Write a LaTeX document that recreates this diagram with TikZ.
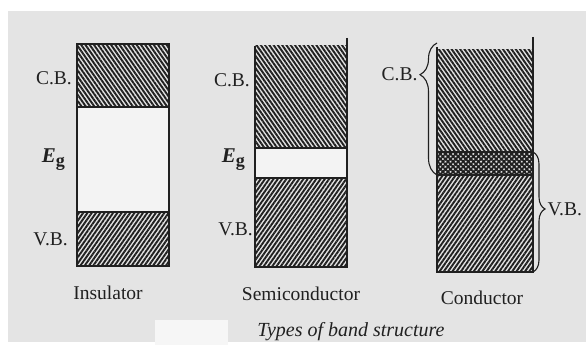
\documentclass[tikz,border=0pt]{standalone}
\usepackage{fontspec}
\setmainfont{Liberation Serif}
\usetikzlibrary{positioning, patterns.meta, decorations.pathreplacing}
\definecolor{paper}{HTML}{E4E4E4}
\definecolor{ink}{HTML}{202020}
\tikzstyle{cb_band} = [rectangle, inner sep=0pt, outer sep=0pt, minimum width=92pt, draw=ink, line width=1.5pt, pattern={Lines[angle=-55, distance=3.5pt, line width=1.9pt]}, pattern color=ink]
\tikzstyle{cb_open} = [cb_band, draw=none]
\tikzstyle{vb_band} = [cb_band, pattern={Lines[angle=55, distance=3.5pt, line width=1.9pt]}]
\tikzstyle{gap_band} = [rectangle, inner sep=0pt, outer sep=0pt, minimum width=92pt, draw=ink, line width=1.5pt, fill=paper!45]
\tikzstyle{overlap_band} = [cb_band, line width=2pt, pattern={Hatch[angle=45, distance=3.6pt, line width=1.8pt]}]
\tikzstyle{band_edge} = [draw=ink, line width=1.5pt]
\tikzstyle{brace_line} = [draw=ink, line width=1.1pt]
\tikzstyle{band_label} = [font=\fontsize{19.5}{22}\selectfont, inner sep=0pt, text=ink]
\tikzstyle{gap_label} = [font=\fontsize{21}{24}\selectfont\bfseries, inner sep=0pt, text=ink]
\newcommand{\gapE}{\textit{E}\raisebox{-0.4ex}{\fontsize{18}{18}\selectfont g}}

\begin{document}
\begin{tikzpicture}[x=1pt, y=1pt]
    \useasboundingbox (0,0) rectangle (586,350);
    \fill [paper] (8,8) rectangle (586,339);
    \fill [paper!35] (155,5) rectangle (228,30);

    % insulator
    \node (ins_cb) [cb_band, minimum height=63pt, anchor=north west] at (77,306) {};
    \node (ins_gap) [gap_band, minimum height=105pt, below=0pt of ins_cb] {};
    \node (ins_vb) [vb_band, minimum height=54pt, below=0pt of ins_gap] {};
    \node (ins_cb_lbl) [band_label, left=5pt of ins_cb, yshift=-3pt] {C.B.};
    \node (ins_eg_lbl) [gap_label, left=12pt of ins_gap] {\gapE};
    \node (ins_vb_lbl) [band_label, left=9pt of ins_vb] {V.B.};
    \node (ins_name) [band_label, below=20pt of ins_vb, xshift=-15pt] {Insulator};

    % semiconductor
    \node (sc_cb) [cb_open, minimum height=102pt, anchor=north west] at (255,304) {};
    \node (sc_gap) [gap_band, minimum height=30pt, below=0pt of sc_cb] {};
    \node (sc_vb) [vb_band, minimum height=89pt, below=0pt of sc_gap] {};
    \draw [band_edge] (sc_cb.north west) -- (sc_gap.north west);
    \draw [band_edge] ([yshift=8pt]sc_cb.north east) -- (sc_gap.north east);
    \node (sc_cb_lbl) [band_label, left=5pt of sc_cb, yshift=17pt] {C.B.};
    \node (sc_eg_lbl) [gap_label, left=10pt of sc_gap, yshift=3pt] {\gapE};
    \node (sc_vb_lbl) [band_label, left=2pt of sc_vb, yshift=-7pt] {V.B.};
    \node (sc_name) [band_label, below=20pt of sc_vb] {Semiconductor};

    % conductor
    \node (con_cb) [cb_open, minimum width=96pt, minimum height=102pt, anchor=north west] at (437,300) {};
    \node (con_ov) [overlap_band, minimum width=96pt, minimum height=23pt, below=0pt of con_cb] {};
    \node (con_vb) [vb_band, minimum width=96pt, minimum height=97pt, below=0pt of con_ov] {};
    \draw [band_edge] ([yshift=3pt]con_cb.north west) -- (con_ov.north west);
    \draw [band_edge] ([yshift=13pt]con_cb.north east) -- (con_ov.north east);
    \coordinate (cb_top) at ([yshift=7pt]con_cb.north west);
    \draw [brace_line, decoration={brace, amplitude=17pt, aspect=0.76}, decorate] (con_ov.south west) -- (cb_top)
        node [band_label, pos=0.76, left=19pt] {C.B.};
    \draw [brace_line, decoration={brace, amplitude=12pt, aspect=0.475}, decorate] (con_ov.north east) -- (con_vb.south east)
        node [band_label, pos=0.475, right=14pt] {V.B.};
    \node (con_name) [band_label, below=19pt of con_vb, xshift=-3pt] {Conductor};

    \node (title) [font=\fontsize{20}{24}\selectfont\itshape, inner sep=0pt, text=ink] at (351,18) {Types of band structure};
\end{tikzpicture}
\end{document}
